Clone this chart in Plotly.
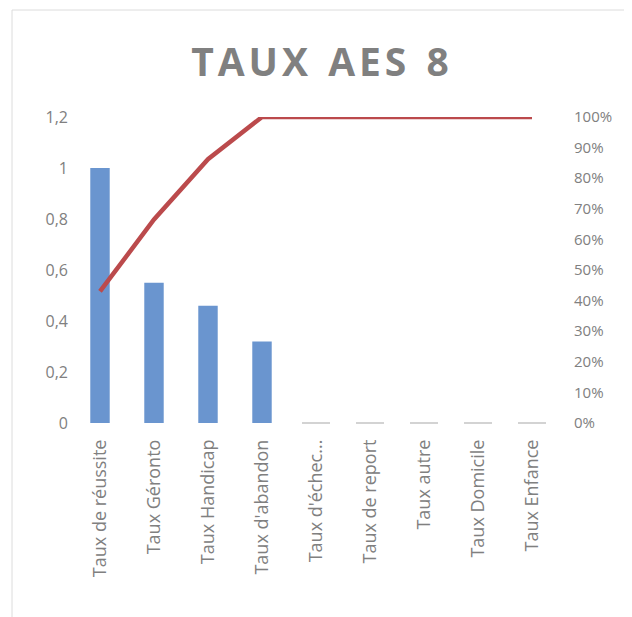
import plotly.graph_objects as go

categories = ["Taux de réussite", "Taux Géronto", "Taux Handicap", "Taux d'abandon",
              "Taux d'échec...", "Taux de report", "Taux autre", "Taux Domicile", "Taux Enfance"]
bar_values = [1.0, 0.55, 0.46, 0.32, 0, 0, 0, 0, 0]
cumulative_pct = [0.43, 0.665, 0.862, 1.0, 1.0, 1.0, 1.0, 1.0, 1.0]
left_ticks = [0, 0.2, 0.4, 0.6, 0.8, 1.0, 1.2]
right_ticks = [0, 0.1, 0.2, 0.3, 0.4, 0.5, 0.6, 0.7, 0.8, 0.9, 1.0]

BAR_COLOR = "#6a95cf"
LINE_COLOR = "#bb4a4c"
TEXT = "#808080"
FONT = "Open Sans"

# page body has an 8px margin; figure sized to the visible area
W, H = 624, 609
L, R, T, B = 65, 73, 109, 194
PW, PH = W - L - R, H - T - B


def px_x(x):
    return (x - L) / PW


def px_y(y):
    return (H - B - y) / PH


zero_cats = [c for c, v in zip(categories, bar_values) if v == 0]
zero_vals = [v for v in bar_values if v == 0]

fig = go.Figure()
fig.add_trace(go.Bar(
    x=categories, y=bar_values, width=0.36,
    marker=dict(color=BAR_COLOR, line=dict(width=0)),
    yaxis="y", showlegend=False,
))
fig.add_trace(go.Scatter(
    x=zero_cats, y=zero_vals, mode="markers", cliponaxis=False,
    marker=dict(symbol="line-ew", size=20, line=dict(color="#c4c4c4", width=1.5)),
    yaxis="y", showlegend=False, hoverinfo="skip",
))
fig.add_trace(go.Scatter(
    x=categories, y=cumulative_pct, mode="lines", cliponaxis=False,
    line=dict(color=LINE_COLOR, width=4.5),
    yaxis="y2", showlegend=False,
))

title_text = "\u200a".join(list("TAUX")) + "  " + "\u200a".join(list("AES")) + "  8"

fig.update_layout(
    width=W, height=H,
    margin=dict(l=L, r=R, t=T, b=B),
    paper_bgcolor="white", plot_bgcolor="white",
    separators=", ",
    font=dict(family=FONT, color=TEXT, size=15),
    title=dict(text="<b>" + title_text + "</b>", x=0.5, xanchor="center", xref="container",
               y=1 - 54 / H, yref="container", yanchor="middle",
               font=dict(family=FONT, size=39, color="#808080")),
    xaxis=dict(type="category", tickangle=-90, showgrid=False, showline=False,
               ticks="", ticklabelstandoff=12, tickfont=dict(size=18, color=TEXT),
               range=[-0.5, 8.5]),
    yaxis=dict(range=[0, 1.2], tickvals=left_ticks, showgrid=False, showline=False,
               zeroline=False, ticks="", ticklabelstandoff=4,
               tickfont=dict(size=16, color=TEXT)),
    yaxis2=dict(range=[0, 1.0], tickvals=right_ticks, tickformat=".0%", overlaying="y",
                side="right", showgrid=False, showline=False, zeroline=False, ticks="",
                ticklabelstandoff=14, tickfont=dict(size=15, color=TEXT)),
    shapes=[dict(type="rect", xref="paper", yref="paper",
                 x0=px_x(4), x1=px_x(W + 20), y0=px_y(H + 20), y1=px_y(2),
                 line=dict(color="#dcdcdc", width=1), fillcolor="rgba(0,0,0,0)", layer="below")],
)

fig.write_html("out.html")
